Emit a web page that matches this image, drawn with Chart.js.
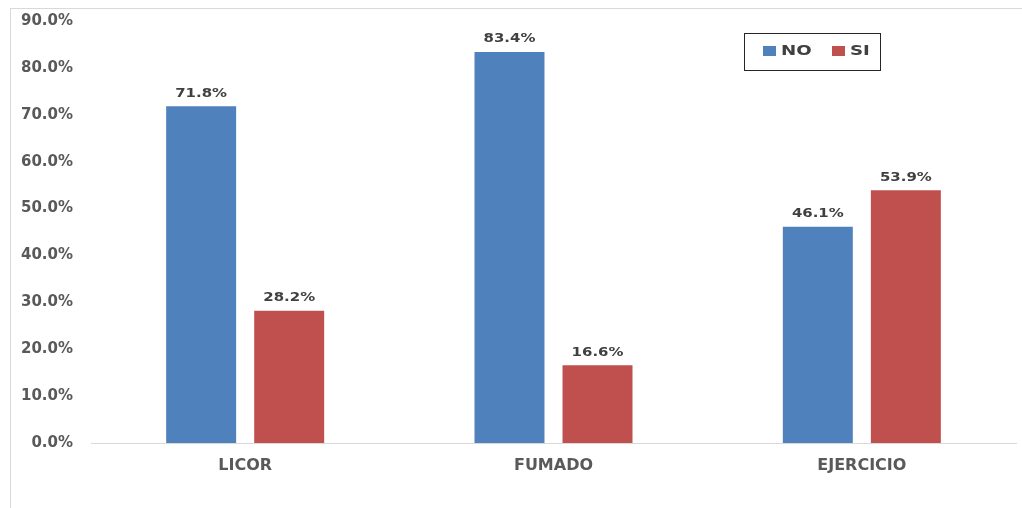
<!DOCTYPE html>
<html><head><meta charset="utf-8">
<script src="https://cdn.jsdelivr.net/npm/chart.js@4"></script>
<style>
html,body{margin:0;padding:0;background:#fff;overflow:hidden}
#wrap{position:absolute;left:0;top:0;width:1022px;height:508px}
#frame{position:absolute;left:10px;top:8px;width:1100px;height:600px;border-left:1px solid #d9d9d9;border-top:1px solid #d9d9d9}
canvas{position:absolute;left:0;top:0}
</style></head>
<body><div id="wrap"><div id="frame"></div><canvas id="c" width="1022" height="508"></canvas></div>
<script>
const categories = ["LICOR", "FUMADO", "EJERCICIO"];
const seriesNames = ["NO", "SI"];
const noValues = [71.8, 83.4, 46.1];
const siValues = [28.2, 16.6, 53.9];
const yTicks = [0, 10, 20, 30, 40, 50, 60, 70, 80, 90];
const colors = ["#4F81BD", "#C0504D"];
const FONT = "'DejaVu Sans', Verdana, sans-serif";

function stretchText(ctx, text, x, y, sx) {
  ctx.save();
  ctx.translate(x, y);
  ctx.scale(sx, 1);
  ctx.fillText(text, 0, 0);
  ctx.restore();
}

const labelPlugin = {
  id: 'vals',
  afterDatasetsDraw(chart) {
    const ctx = chart.ctx;
    ctx.save();
    ctx.font = "bold 13px " + FONT;
    ctx.fillStyle = "#404040";
    ctx.textAlign = "center";
    ctx.textBaseline = "middle";
    chart.data.datasets.forEach((ds, i) => {
      chart.getDatasetMeta(i).data.forEach((bar, j) => {
        stretchText(ctx, ds.data[j].toFixed(1) + "%", bar.x, bar.y - 13, 1.15);
      });
    });
    ctx.restore();
  }
};
const legendPlugin = {
  id: 'boxLegend',
  afterDraw(chart) {
    const ctx = chart.ctx;
    ctx.save();
    ctx.strokeStyle = "#262626";
    ctx.lineWidth = 1;
    ctx.strokeRect(744.5, 33.5, 136, 37);
    ctx.font = "bold 14px " + FONT;
    ctx.textBaseline = "middle";
    ctx.textAlign = "left";
    const xs = [763, 832];
    chart.data.datasets.forEach((ds, i) => {
      ctx.fillStyle = ds.backgroundColor;
      ctx.fillRect(xs[i], 46, 13, 10);
      ctx.fillStyle = "#404040";
      stretchText(ctx, ds.label, xs[i] + 18, 51.5, 1.3);
    });
    ctx.restore();
  }
};

new Chart(document.getElementById('c'), {
  type: 'bar',
  data: {
    labels: categories,
    datasets: [
      { label: seriesNames[0], data: noValues, backgroundColor: colors[0] },
      { label: seriesNames[1], data: siValues, backgroundColor: colors[1] }
    ]
  },
  options: {
    responsive: false,
    animation: false,
    devicePixelRatio: 1,
    layout: { padding: { top: 21, right: 6, left: 0, bottom: 0 } },
    datasets: { bar: { categoryPercentage: 0.571, barPercentage: 0.795 } },
    plugins: { legend: { display: false }, tooltip: { enabled: false } },
    scales: {
      x: {
        grid: { display: false, drawTicks: false },
        border: { display: true, color: "#d9d9d9", width: 1 },
        ticks: { color: "#595959", font: { family: FONT, size: 16, weight: 'bold' }, padding: 13 },
        afterFit(s) { s.height = 65; }
      },
      y: {
        min: 0, max: 90,
        afterBuildTicks(s) { s.ticks = yTicks.map(v => ({ value: v })); },
        grid: { display: false, drawTicks: false },
        border: { display: false },
        ticks: { color: "#595959", font: { family: FONT, size: 15, weight: 'bold' }, padding: 18,
          callback: v => Number(v).toFixed(1) + "%" },
        afterFit(s) { s.width = 91; s.paddingTop = 8; s.paddingBottom = 8; }
      }
    }
  },
  plugins: [labelPlugin, legendPlugin]
});
</script></body></html>
